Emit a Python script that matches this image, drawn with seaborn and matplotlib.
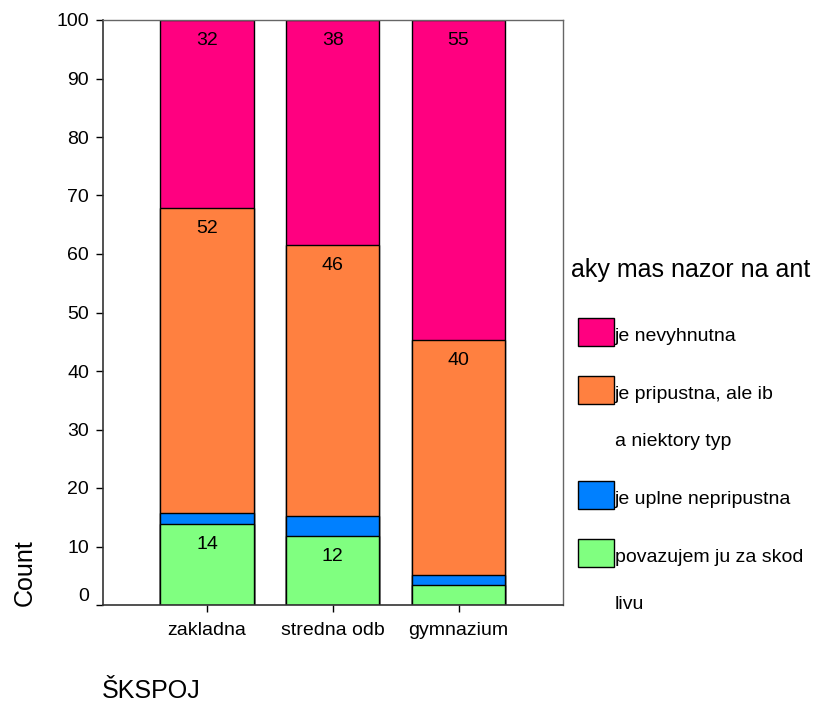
import numpy as np
import pandas as pd
import seaborn as sns
import matplotlib.pyplot as plt
from matplotlib.patches import Rectangle


# percenta podla typu skoly (odcitane z grafu)
skoly = ["zakladna", "stredna odb", "gymnazium"]
povazujem = [13.8, 11.8, 3.5]
uplne_nepripustna = [2.0, 3.4, 1.7]
pripustna = [52.1, 46.4, 40.1]
nevyhnutna = [32.1, 38.4, 54.7]

nazory = ["povazujem ju za skod\nlivu", "je uplne nepripustna",
          "je pripustna, ale ib\na niektory typ", "je nevyhnutna"]
farby = ["#80FF80", "#0080FF", "#FF8040", "#FF0080"]

df = pd.DataFrame({"skola": skoly,
                   nazory[0]: povazujem,
                   nazory[1]: uplne_nepripustna,
                   nazory[2]: pripustna,
                   nazory[3]: nevyhnutna})
cum = df[nazory].cumsum(axis=1)

sns.set_theme(style="white")
plt.rcParams["font.family"] = ["Liberation Sans", "DejaVu Sans"]
plt.rcParams["text.color"] = "black"

W, H = 819, 704
def fx(px):
    return px / W
def fy(py):
    return 1 - py / H

fig = plt.figure(figsize=(W / 100, H / 100), dpi=100)
ax = fig.add_axes([fx(103), fy(605), (563 - 103) / W, (605 - 20) / H])

# stacked bars = cumulative bars drawn from the top segment down
for naz, farba in reversed(list(zip(nazory, farby))):
    sns.barplot(x=df["skola"], y=cum[naz], color=farba, saturation=1,
                width=0.74, edgecolor="black", linewidth=1, ax=ax)

for naz in nazory:
    for i, (v, top) in enumerate(zip(df[naz], cum[naz])):
        if v >= 10:
            ax.annotate(f"{v:.0f}", (i, top), xytext=(0, -14.8),
                        textcoords="offset points", ha="center", va="center",
                        fontsize=14, color="black")

ax.set_xlim(-0.827, 2.831)
ax.set_ylim(0, 100)
ax.set_yticks(range(0, 101, 10))
ax.set_xlabel("")
ax.set_ylabel("")
ax.tick_params(axis="both", labelsize=14, colors="black", length=5,
               width=1, direction="out", pad=5, left=True, bottom=True)
ax.tick_params(axis="x", pad=7)
# "0" sits a bit above the axis line like in the original
ax.get_yticklabels()[0].set_va("bottom")
for s in ["left", "bottom"]:
    ax.spines[s].set_color("#333333")
    ax.spines[s].set_linewidth(1.2)
for s in ["top", "right"]:
    ax.spines[s].set_color("#666666")
    ax.spines[s].set_linewidth(1)

fig.text(fx(25), fy(606), "Count", rotation=90, ha="center", va="bottom",
         fontsize=18, color="black")
fig.text(fx(102), fy(698), "ŠKSPOJ", ha="left", va="baseline", fontsize=18,
         color="black")

# legenda
fig.text(fx(571), fy(277), "aky mas nazor na ant", ha="left",
         va="baseline", fontsize=18, color="black")
y = 340.7
for naz, farba in reversed(list(zip(nazory, farby))):
    fig.add_artist(Rectangle((fx(577.5), fy(y + 5)), 36.5 / W, 27.5 / H,
                             transform=fig.transFigure, facecolor=farba,
                             edgecolor="black", linewidth=1))
    for k, riadok in enumerate(naz.split("\n")):
        fig.text(fx(615), fy(y), riadok, ha="left", va="baseline",
                 fontsize=14, color="black")
        y += 47 if k < naz.count("\n") else 0
    y += 58

fig.savefig("out.png", dpi=100)
